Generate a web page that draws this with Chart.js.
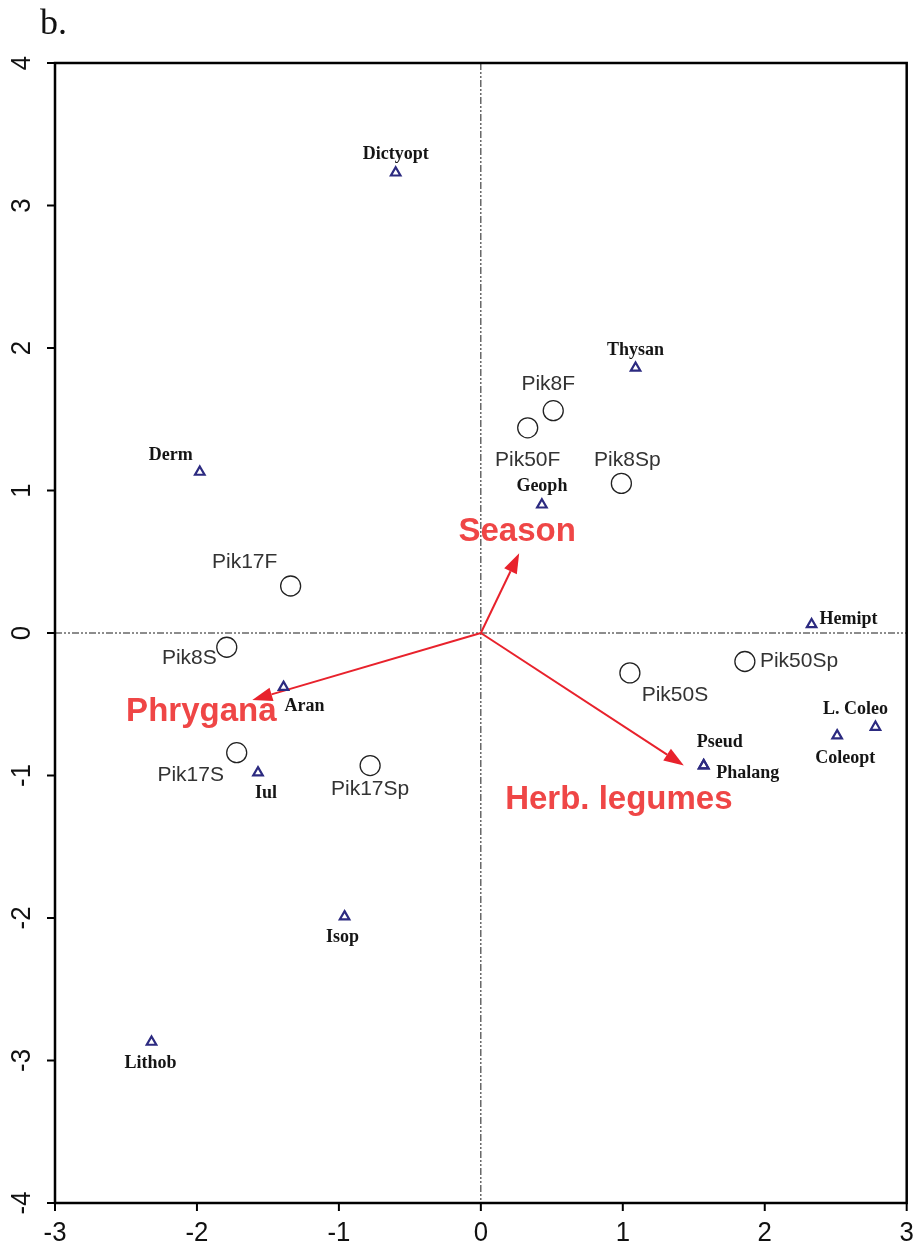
<!DOCTYPE html>
<html>
<head>
<meta charset="utf-8">
<script src="https://cdn.jsdelivr.net/npm/chart.js@4/dist/chart.umd.min.js"></script>
<style>
  html, body { margin: 0; padding: 0; background: #fff; }
  #wrap { position: relative; width: 918px; height: 1250px; }
  #cap { position: absolute; left: 40px; top: 4px; font: 36px/36px "Liberation Serif", "Times New Roman", serif; color: #111; }
</style>
</head>
<body>
<div id="wrap">
  <div id="cap">b.</div>
  <canvas id="c" width="918" height="1250"></canvas>
</div>
<script>
// Ordination scores: sampling sites (circles)
const siteNames = ['Pik8F', 'Pik50F', 'Pik8Sp', 'Pik17F', 'Pik8S', 'Pik17S', 'Pik17Sp', 'Pik50S', 'Pik50Sp'];
const siteX = [0.51, 0.33, 0.99, -1.34, -1.79, -1.72, -0.78, 1.05, 1.86];
const siteY = [1.56, 1.44, 1.05, 0.33, -0.10, -0.84, -0.93, -0.28, -0.20];

// Ordination scores: taxa (triangles)
const taxonNames = ['Dictyopt', 'Thysan', 'Derm', 'Geoph', 'Hemipt', 'Aran', 'L. Coleo', 'Coleopt', 'Pseud', 'Phalang', 'Iul', 'Isop', 'Lithob'];
const taxonX = [-0.60, 1.09, -1.98, 0.43, 2.33, -1.39, 2.78, 2.51, 1.57, 1.57, -1.57, -0.96, -2.32];
const taxonY = [3.23, 1.86, 1.13, 0.90, 0.06, -0.38, -0.66, -0.72, -0.93, -0.93, -0.98, -1.99, -2.87];

// Environmental variables (arrows from the origin)
const envNames = ['Season', 'Phrygana', 'Herb. legumes'];
const envX = [0.27, -1.61, 1.43];
const envY = [0.56, -0.47, -0.93];

// Axis ticks
const xTicks = [-3, -2, -1, 0, 1, 2, 3];
const yTicks = [-4, -3, -2, -1, 0, 1, 2, 3, 4];

// Label placement (pixel offsets from the marker)
const siteLabelOffset = {
  'Pik8F': [-5, -26, 'center'], 'Pik50F': [0, 32, 'center'], 'Pik8Sp': [6, -23, 'center'],
  'Pik17F': [-46, -24, 'center'], 'Pik8S': [-10, 11, 'right'], 'Pik17S': [-46, 23, 'center'],
  'Pik17Sp': [0, 24, 'center'], 'Pik50S': [45, 22, 'center'], 'Pik50Sp': [15, 0, 'left']
};
const taxonLabelOffset = {
  'Dictyopt': [0, -18, 'center'], 'Thysan': [0, -18, 'center'], 'Derm': [-29, -17, 'center'],
  'Geoph': [0, -18, 'center'], 'Hemipt': [8, -5, 'left'], 'Aran': [21, 19, 'center'],
  'L. Coleo': [-20, -18, 'center'], 'Coleopt': [8, 23, 'center'], 'Pseud': [16, -23, 'center'],
  'Phalang': [44, 8, 'center'], 'Iul': [8, 21, 'center'], 'Isop': [-2, 21, 'center'], 'Lithob': [-1, 21, 'center']
};
const envLabelOffset = {
  'Season': [-2, -21], 'Phrygana': [-51, 12], 'Herb. legumes': [-65, 34]
};

const RED_LINE = '#e8222c';
const RED_TEXT = '#ef4646';
const TAXON_COL = '#2c2a80';

const sitePoints = siteX.map((x, i) => ({ x, y: siteY[i], name: siteNames[i] }));
const taxonPoints = taxonX.map((x, i) => ({ x, y: taxonY[i], name: taxonNames[i] }));

const ordinationPlugin = {
  id: 'ordination',
  beforeDatasetsDraw(chart) {
    const { ctx, chartArea: a, scales: { x, y } } = chart;
    const x0 = x.getPixelForValue(0), y0 = y.getPixelForValue(0);
    ctx.save();
    ctx.strokeStyle = '#1a1a1a';
    ctx.lineWidth = 1;
    ctx.setLineDash([7, 2, 2, 2, 2, 2]);
    ctx.beginPath();
    ctx.moveTo(a.left, y0); ctx.lineTo(a.right, y0);
    ctx.moveTo(x0, a.top); ctx.lineTo(x0, a.bottom);
    ctx.stroke();
    ctx.setLineDash([]);

    // arrows
    envNames.forEach((n, i) => {
      const tx = x.getPixelForValue(envX[i]), ty = y.getPixelForValue(envY[i]);
      const ang = Math.atan2(ty - y0, tx - x0);
      const hl = 20, hw = 7;
      const bx = tx - hl * Math.cos(ang), by = ty - hl * Math.sin(ang);
      ctx.strokeStyle = RED_LINE;
      ctx.fillStyle = RED_LINE;
      ctx.lineWidth = 2;
      ctx.beginPath(); ctx.moveTo(x0, y0); ctx.lineTo(bx, by); ctx.stroke();
      ctx.beginPath();
      ctx.moveTo(tx, ty);
      ctx.lineTo(bx + hw * Math.sin(ang), by - hw * Math.cos(ang));
      ctx.lineTo(bx - hw * Math.sin(ang), by + hw * Math.cos(ang));
      ctx.closePath(); ctx.fill();
    });
    ctx.restore();
  },
  afterDatasetsDraw(chart) {
    const { ctx, chartArea: a, scales: { x, y } } = chart;
    ctx.save();
    ctx.textBaseline = 'middle';
    // site labels
    ctx.font = '21px "Liberation Sans", Arial, sans-serif';
    ctx.fillStyle = '#333';
    sitePoints.forEach(p => {
      const o = siteLabelOffset[p.name];
      ctx.textAlign = o[2];
      ctx.fillText(p.name, x.getPixelForValue(p.x) + o[0], y.getPixelForValue(p.y) + o[1]);
    });
    // taxon labels
    ctx.font = 'bold 18px "Liberation Serif", "Times New Roman", serif';
    ctx.fillStyle = '#151515';
    taxonPoints.forEach(p => {
      const o = taxonLabelOffset[p.name];
      ctx.textAlign = o[2];
      ctx.fillText(p.name, x.getPixelForValue(p.x) + o[0], y.getPixelForValue(p.y) + o[1]);
    });
    // environmental labels
    ctx.font = 'bold 33px "Liberation Sans", Arial, sans-serif';
    ctx.fillStyle = RED_TEXT;
    ctx.textAlign = 'center';
    envNames.forEach((n, i) => {
      const o = envLabelOffset[n];
      ctx.fillText(n, x.getPixelForValue(envX[i]) + o[0], y.getPixelForValue(envY[i]) + o[1]);
    });

    // frame
    ctx.strokeStyle = '#000';
    ctx.lineWidth = 2.5;
    ctx.strokeRect(a.left, a.top, a.right - a.left, a.bottom - a.top);

    // tick marks and labels
    ctx.lineWidth = 2;
    ctx.fillStyle = '#111';
    ctx.font = '28px "Liberation Sans", Arial, sans-serif';
    xTicks.forEach(v => {
      const px = x.getPixelForValue(v);
      ctx.beginPath(); ctx.moveTo(px, a.bottom); ctx.lineTo(px, a.bottom + 8); ctx.stroke();
      ctx.save();
      ctx.translate(px, a.bottom + 30);
      ctx.scale(0.92, 1);
      ctx.textAlign = 'center';
      ctx.fillText(String(v), 0, 0);
      ctx.restore();
    });
    yTicks.forEach(v => {
      const py = y.getPixelForValue(v);
      ctx.beginPath(); ctx.moveTo(a.left, py); ctx.lineTo(a.left - 8, py); ctx.stroke();
      ctx.save();
      ctx.translate(a.left - 33, py);
      ctx.rotate(-Math.PI / 2);
      ctx.scale(0.92, 1);
      ctx.textAlign = 'center';
      ctx.fillText(String(v), 0, 0);
      ctx.restore();
    });
    ctx.restore();
  }
};

new Chart(document.getElementById('c'), {
  type: 'scatter',
  data: {
    datasets: [
      {
        label: 'Sites',
        data: sitePoints,
        pointStyle: 'circle',
        pointRadius: 10,
        pointBorderWidth: 1.3,
        pointBorderColor: '#222',
        pointBackgroundColor: 'rgba(255,255,255,0)'
      },
      {
        label: 'Taxa',
        data: taxonPoints,
        pointStyle: 'triangle',
        pointRadius: 5.5,
        pointBorderWidth: 2.2,
        pointBorderColor: TAXON_COL,
        pointBackgroundColor: 'rgba(255,255,255,0)'
      }
    ]
  },
  options: {
    responsive: false,
    animation: false,
    events: [],
    layout: { padding: { top: 63, right: 10, left: 0, bottom: 0 } },
    plugins: { legend: { display: false }, tooltip: { enabled: false } },
    scales: {
      x: {
        type: 'linear', min: -3, max: 3,
        afterBuildTicks: s => { s.ticks = xTicks.map(v => ({ value: v })); },
        afterFit: s => { s.height = 47; },
        grid: { display: false },
        border: { display: false },
        ticks: { display: false }
      },
      y: {
        type: 'linear', min: -4, max: 4,
        afterBuildTicks: s => { s.ticks = yTicks.map(v => ({ value: v })); },
        afterFit: s => { s.width = 55; },
        grid: { display: false },
        border: { display: false },
        ticks: { display: false }
      }
    }
  },
  plugins: [ordinationPlugin]
});
</script>
</body>
</html>
